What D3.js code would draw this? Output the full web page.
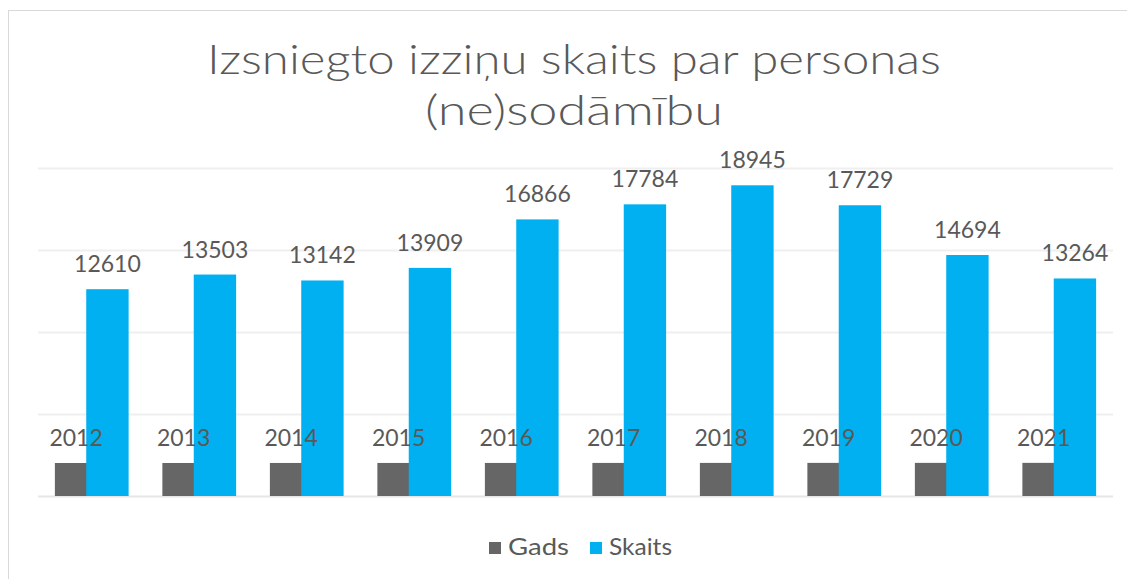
<!DOCTYPE html>
<html>
<head>
<meta charset="utf-8">
<script src="https://cdn.jsdelivr.net/npm/d3@7"></script>
<style>
  html, body { margin: 0; padding: 0; background: #fff; overflow: hidden; }
  text { font-family: "Lato", "Open Sans", sans-serif; }
</style>
</head>
<body>
<div id="chart"></div>
<script>
const years = ["2012", "2013", "2014", "2015", "2016", "2017", "2018", "2019", "2020", "2021"];
const gads = [2012, 2013, 2014, 2015, 2016, 2017, 2018, 2019, 2020, 2021];
const skaits = [12610, 13503, 13142, 13909, 16866, 17784, 18945, 17729, 14694, 13264];
const seriesNames = ["Gads", "Skaits"];
const gridTicks = [0, 5000, 10000, 15000, 20000];
const titleLines = ["Izsniegto izziņu skaits par personas", "(ne)sodāmību"];

const W = 1127, H = 579;
const plot = { left: 38, right: 1113, top: 168, bottom: 496 };
const colors = { Gads: "#666666", Skaits: "#00b0f0" };
const textColor = "#595959";

const svg = d3.select("#chart")
  .append("svg")
  .attr("width", W)
  .attr("height", H);

// chart frame (runs off the right/bottom edge like the screenshot)
svg.append("rect")
  .attr("x", 8.5).attr("y", 10.5)
  .attr("width", 1300).attr("height", 800)
  .attr("fill", "#fff")
  .attr("stroke", "#d9d9d9");

// title, two lines stretched to the widths in the picture (wide geometric face)
const title = svg.append("g")
  .attr("fill", textColor)
  .attr("text-anchor", "middle")
  .style("font-weight", 300)
  .style("font-size", "42px");
title.append("text")
  .attr("x", 574).attr("y", 74)
  .attr("textLength", 734)
  .attr("lengthAdjust", "spacingAndGlyphs")
  .text(titleLines[0]);
title.append("text")
  .attr("x", 574).attr("y", 125)
  .attr("textLength", 298)
  .attr("lengthAdjust", "spacingAndGlyphs")
  .text(titleLines[1]);

const x = d3.scaleBand()
  .domain(years)
  .range([plot.left, plot.right])
  .paddingInner(0.314)
  .paddingOuter(0.157);

const y = d3.scaleLinear()
  .domain([0, 20000])
  .range([plot.bottom, plot.top]);

const overlap = 0.26;
const barW = x.bandwidth() / (2 - overlap);

// gridlines
svg.append("g")
  .selectAll("line")
  .data(gridTicks)
  .join("line")
  .attr("x1", plot.left).attr("x2", plot.right)
  .attr("y1", d => Math.round(y(d)) + 0.5)
  .attr("y2", d => Math.round(y(d)) + 0.5)
  .attr("stroke", d => d === 0 ? "#e6e6e6" : "#efefef")
  .attr("stroke-width", 2);

const rows = years.map((yr, i) => ({ year: yr, gads: gads[i], skaits: skaits[i] }));

// Gads bars
svg.append("g")
  .selectAll("rect")
  .data(rows)
  .join("rect")
  .attr("x", d => x(d.year))
  .attr("width", barW)
  .attr("y", d => y(d.gads))
  .attr("height", d => y(0) - y(d.gads))
  .attr("fill", colors.Gads);

// Skaits bars (overlap the grey ones)
svg.append("g")
  .selectAll("rect")
  .data(rows)
  .join("rect")
  .attr("x", d => x(d.year) + x.bandwidth() - barW)
  .attr("width", barW)
  .attr("y", d => y(d.skaits))
  .attr("height", d => y(0) - y(d.skaits))
  .attr("fill", colors.Skaits);

// data labels
const labels = svg.append("g")
  .attr("fill", textColor)
  .style("font-size", "23px")
  .attr("text-anchor", "middle");

labels.selectAll("text.g")
  .data(rows)
  .join("text")
  .attr("class", "g")
  .attr("x", d => x(d.year) + barW / 2)
  .attr("y", d => y(d.gads) - 17)
  .text(d => d.gads);

labels.selectAll("text.s")
  .data(rows)
  .join("text")
  .attr("class", "s")
  .attr("x", d => x(d.year) + x.bandwidth() - barW / 2)
  .attr("y", d => y(d.skaits) - 17)
  .text(d => d.skaits);

// legend
const legend = svg.append("g");
const legendItems = [
  { name: seriesNames[0], x: 489, w: 61 },
  { name: seriesNames[1], x: 590, w: 63 }
];
legendItems.forEach(it => {
  legend.append("rect")
    .attr("x", it.x).attr("y", 542)
    .attr("width", 12).attr("height", 12)
    .attr("fill", colors[it.name]);
  legend.append("text")
    .attr("x", it.x + 19).attr("y", 555)
    .attr("fill", textColor)
    .style("font-size", "24px")
    .attr("textLength", it.w)
    .attr("lengthAdjust", "spacingAndGlyphs")
    .text(it.name);
});
</script>
</body>
</html>
